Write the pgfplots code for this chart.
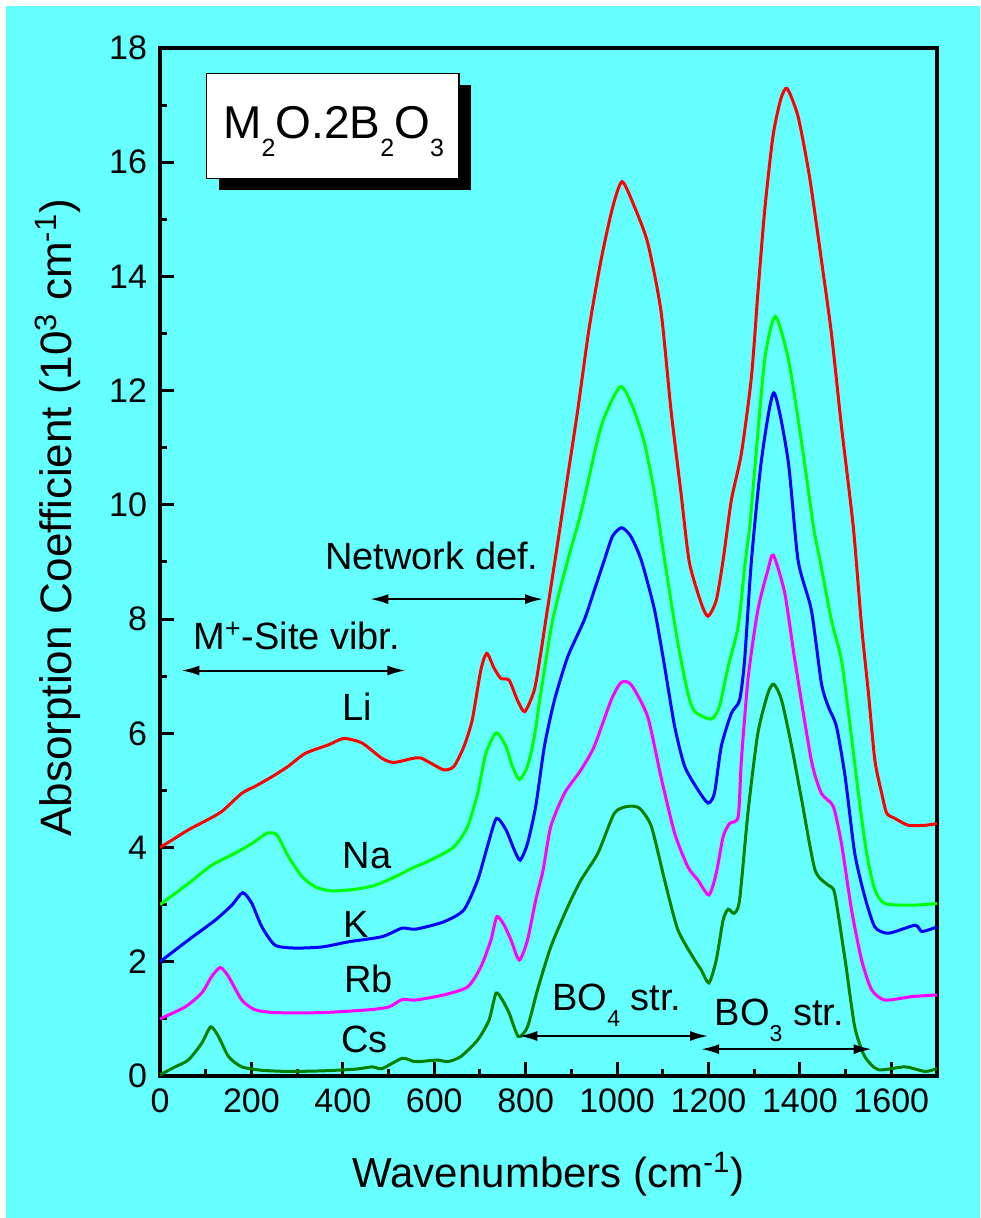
\documentclass[border=0pt]{standalone}
\usepackage{pgfplots}
\pgfplotsset{compat=1.18}
\usepackage{fontspec}
\setmainfont{Liberation Sans}
\usetikzlibrary{arrows.meta}
\definecolor{bgcyan}{RGB}{102,255,255}
\definecolor{dkgreen}{RGB}{0,128,0}
\definecolor{cRed}{RGB}{255,0,0}
\definecolor{cGreen}{RGB}{0,255,0}
\definecolor{cBlue}{RGB}{0,0,255}
\definecolor{cMag}{RGB}{255,0,255}
\newcommand\sub[3]{\raisebox{-#2}{\fontsize{#1}{#1}\selectfont #3}}

\pgfplotstableread{
x y
0 4.0
30 4.15
62 4.31
100 4.47
135 4.63
179 4.95
210 5.08
245 5.24
280 5.42
318 5.65
369 5.80
402 5.91
442 5.83
486 5.56
512 5.49
552 5.56
570 5.57
592 5.48
621 5.36
643 5.42
665 5.77
683 6.23
702 7.11
715 7.40
731 7.14
746 6.96
764 6.93
782 6.58
798 6.38
819 6.76
833 7.40
844 7.98
870 9.33
892 10.5
914 11.66
939 13.1
965 14.29
990 15.2
1011 15.66
1038 15.22
1067 14.59
1096 13.4
1118 11.66
1140 10.2
1158 9.0
1184 8.28
1199 8.05
1217 8.33
1232 9.03
1250 10.08
1272 10.9
1294 12.24
1308 13.7
1323 15.16
1341 16.45
1358 17.1
1372 17.29
1396 16.8
1421 15.75
1447 14.29
1469 13.0
1491 11.37
1517 9.6
1535 7.87
1550 6.70
1564 5.53
1579 4.95
1590 4.60
1608 4.51
1637 4.39
1674 4.39
1700 4.42
}\tLi

\pgfplotstableread{
x y
0 3.0
62 3.37
113 3.69
164 3.90
201 4.07
234 4.25
256 4.22
281 3.84
311 3.49
340 3.31
376 3.24
428 3.27
471 3.34
515 3.49
552 3.64
592 3.78
643 4.01
673 4.37
695 4.95
713 5.65
736 6.01
757 5.77
771 5.42
786 5.19
804 5.42
819 5.94
833 6.7
859 7.98
892 9.03
921 9.86
965 11.37
1007 12.07
1035 11.7
1060 11.08
1082 10.2
1104 9.03
1133 7.58
1155 6.70
1170 6.38
1206 6.25
1224 6.47
1243 7.17
1265 7.87
1279 8.9
1290 9.6
1301 10.6
1323 12.54
1346 13.3
1375 12.54
1404 11.08
1430 9.6
1444 9.03
1469 7.98
1491 7.28
1510 6.12
1528 4.95
1546 3.90
1564 3.26
1586 3.02
1645 2.99
1700 3.02
}\tNa

\pgfplotstableread{
x y
0 2.0
62 2.38
121 2.73
157 2.99
181 3.21
201 3.02
223 2.61
252 2.29
296 2.24
355 2.26
413 2.35
486 2.44
530 2.59
559 2.57
621 2.70
665 2.91
695 3.43
716 4.01
736 4.51
757 4.31
775 3.96
788 3.78
804 4.07
822 4.72
841 5.77
863 6.58
892 7.34
928 7.98
950 8.5
972 9.03
990 9.45
1010 9.6
1030 9.45
1053 9.03
1082 8.16
1104 7.17
1126 6.12
1148 5.42
1177 5.01
1199 4.78
1213 4.95
1228 5.77
1250 6.35
1268 6.58
1279 7.28
1294 9.03
1316 10.79
1343 11.96
1374 10.79
1396 9.03
1425 8.16
1447 6.88
1462 6.47
1480 6.12
1499 5.24
1520 3.90
1542 3.14
1564 2.61
1594 2.50
1652 2.64
1667 2.53
1700 2.61
}\tK

\pgfplotstableread{
x y
0 1.0
55 1.21
91 1.45
113 1.74
132 1.90
150 1.74
179 1.33
208 1.16
252 1.11
355 1.11
457 1.16
501 1.21
530 1.34
559 1.33
621 1.42
673 1.56
702 1.91
724 2.38
737 2.79
753 2.64
768 2.38
786 2.03
804 2.38
822 3.08
838 3.6
855 4.37
885 4.95
921 5.36
950 5.77
987 6.58
1009 6.89
1031 6.85
1067 6.29
1096 5.24
1126 4.25
1155 3.66
1177 3.43
1201 3.17
1217 3.55
1232 4.19
1246 4.42
1265 4.54
1272 5.53
1287 6.99
1308 8.16
1330 8.86
1342 9.12
1367 8.45
1389 7.28
1425 5.53
1447 4.95
1473 4.72
1491 4.07
1513 2.91
1535 2.03
1557 1.51
1586 1.33
1645 1.39
1700 1.42
}\tRb

\pgfplotstableread{
x y
0 0.02
33 0.16
62 0.28
91 0.57
111 0.86
128 0.69
150 0.34
179 0.16
223 0.10
281 0.08
355 0.09
428 0.12
464 0.16
486 0.13
530 0.31
559 0.25
607 0.28
629 0.25
658 0.34
695 0.63
720 0.98
735 1.45
749 1.33
764 1.10
784 0.69
804 0.86
826 1.51
855 2.26
892 2.96
921 3.43
958 3.90
994 4.60
1023 4.72
1049 4.69
1075 4.37
1104 3.43
1133 2.56
1170 2.03
1184 1.86
1201 1.63
1217 2.03
1232 2.73
1243 2.92
1256 2.85
1268 3.08
1287 4.66
1308 6.0
1330 6.70
1343 6.86
1360 6.58
1382 5.77
1404 4.83
1433 3.61
1462 3.34
1476 3.20
1499 2.03
1520 0.86
1542 0.34
1572 0.11
1630 0.16
1674 0.08
1700 0.13
}\tCs

\begin{document}
\begin{tikzpicture}
\fill[white] (-80pt,-71pt) rectangle (410pt,538pt);
\fill[bgcyan] (-77pt,-71pt) rectangle (410pt,535pt);
\path[use as bounding box] (-80pt,-71pt) rectangle (410pt,538pt);
\begin{axis}[
  at={(0,0)}, anchor=south west,
  scale only axis, width=388.5pt, height=514pt,
  xmin=0, xmax=1700, ymin=0, ymax=18,
  xtick={0,200,...,1600}, minor xtick={100,300,...,1700},
  ytick={0,2,...,18}, minor ytick={1,3,...,17},
  tick align=inside, xtick pos=bottom, ytick pos=left,
  major tick length=7pt, minor tick length=3.5pt,
  every tick/.style={black, line width=1.5pt},
  axis line style={line width=1.75pt},
  tick label style={font=\fontsize{17}{17}\selectfont},
  /pgf/number format/assume math mode=true,
  /pgf/number format/1000 sep={},
  xticklabel style={yshift=-3pt},
  yticklabel style={xshift=-3pt},
  xlabel={Wavenumbers (cm\textsuperscript{-1})},
  ylabel={Absorption Coefficient (10\textsuperscript{3} cm\textsuperscript{-1})},
  xlabel style={at={([yshift=-49pt]rel axis cs:0.5,0)}, anchor=center, font=\fontsize{21}{21}\selectfont},
  ylabel style={at={([xshift=-51pt]rel axis cs:0,0.543)}, anchor=center, font=\fontsize{22}{22}\selectfont},
  every axis plot/.append style={line width=1.5pt, smooth, tension=0.4},
]
\addplot[cRed] table {\tLi};
\addplot[cGreen] table {\tNa};
\addplot[cBlue] table {\tK};
\addplot[cMag] table {\tRb};
\addplot[dkgreen] table {\tCs};

% formula box with shadow
\fill[black] ([xshift=6pt,yshift=-6pt]axis cs:102,17.56) rectangle ([xshift=6pt,yshift=-6pt]axis cs:654,15.72);
\filldraw[fill=white, draw=black, line width=0.6pt] (axis cs:102,17.56) rectangle (axis cs:654,15.72);
\node[anchor=base, font=\fontsize{23}{23}\selectfont, inner sep=0pt] at (axis cs:380,16.42)
  {M\sub{12.5}{9pt}{2}O.2B\sub{12.5}{9pt}{2}O\sub{12.5}{9pt}{3}};

% labels
\begin{scope}[every node/.style={font=\fontsize{19}{19}\selectfont, inner sep=0pt}]
\node[anchor=base] at (axis cs:432,6.23) {Li};
\node[anchor=base] at (axis cs:453,3.64) {Na};
\node[anchor=base] at (axis cs:429,2.43) {K};
\node[anchor=base] at (axis cs:456,1.47) {Rb};
\node[anchor=base] at (axis cs:447,0.42) {Cs};
\node[anchor=base] at (axis cs:299,7.46) {M\textsuperscript{+}-Site vibr.};
\node[anchor=base] at (axis cs:595,8.86) {Network def.};
\node[anchor=base west] at (axis cs:858,1.14) {BO\sub{11.5}{8pt}{4} str.};
\node[anchor=base west] at (axis cs:1213,0.89) {BO\sub{11.5}{8pt}{3} str.};
\end{scope}

% arrows
\begin{scope}[line width=1pt, {Latex[length=9pt,width=5pt]}-{Latex[length=9pt,width=5pt]}]
\draw (axis cs:47,7.10) -- (axis cs:537,7.10);
\draw (axis cs:460,8.35) -- (axis cs:838,8.35);
\draw (axis cs:786,0.70) -- (axis cs:1199,0.70);
\draw (axis cs:1184,0.47) -- (axis cs:1557,0.47);
\end{scope}
\end{axis}
\end{tikzpicture}
\end{document}
